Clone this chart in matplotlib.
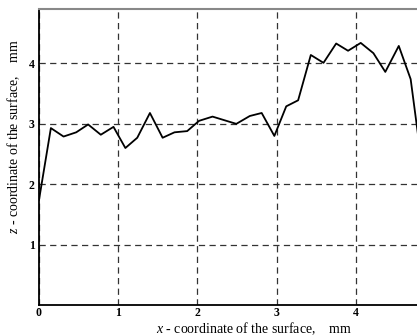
import matplotlib
matplotlib.use('Agg')
import matplotlib.pyplot as plt

# surface profile
x_mm = [0.0, 0.15, 0.31, 0.47, 0.62, 0.78, 0.94, 1.09, 1.24, 1.40, 1.56, 1.71, 1.87,
        2.02, 2.19, 2.34, 2.49, 2.66, 2.81, 2.97, 3.12, 3.27, 3.43, 3.59, 3.75, 3.90,
        4.06, 4.22, 4.37, 4.54, 4.69, 4.85]
z_mm = [1.74, 2.93, 2.79, 2.86, 2.99, 2.82, 2.95, 2.60, 2.77, 3.18, 2.77, 2.86, 2.88,
        3.05, 3.12, 3.06, 3.00, 3.13, 3.18, 2.80, 3.29, 3.39, 4.14, 4.01, 4.33, 4.21,
        4.34, 4.17, 3.86, 4.29, 3.74, 2.15]
xticks = [0, 1, 2, 3, 4]
yticks = [1, 2, 3, 4]

plt.rcParams['font.family'] = 'Liberation Serif'
plt.rcParams['mathtext.fontset'] = 'custom'
plt.rcParams['mathtext.it'] = 'Liberation Serif:italic'
plt.rcParams['mathtext.rm'] = 'Liberation Serif'

fig = plt.figure(figsize=(4.17, 3.36), dpi=100)
ax = fig.add_axes([0.0935, 0.092, 0.9065, 0.881])

ax.plot(x_mm, z_mm, color='black', lw=1.3, clip_on=True)

ax.set_xlim(0, 4.77)
ax.set_ylim(0, 4.9)
ax.set_xticks(xticks)
ax.set_yticks(yticks)
ax.set_xticklabels([str(t) for t in xticks], fontweight='bold', fontsize=8.5)
ax.set_yticklabels([str(t) for t in yticks], fontweight='bold', fontsize=8.5)
ax.tick_params(axis='x', length=0, pad=1.5)
ax.tick_params(axis='y', length=0, pad=3)

ax.grid(True, color='#333333', ls=(0, (5, 3.5)), lw=0.9)

ax.spines['right'].set_visible(False)
ax.spines['top'].set_color('#888888')
ax.spines['top'].set_linewidth(1.5)
ax.spines['left'].set_linewidth(1.3)
ax.spines['bottom'].set_linewidth(1.3)

ax.set_xlabel(r'$x$ - coordinate of the surface,    mm', fontsize=10)
ax.xaxis.set_label_coords(0.568, -0.05)
ax.set_ylabel(r'$z$ - coordinate of the surface,    mm', fontsize=10)
ax.yaxis.set_label_coords(-0.045, 0.57)

fig.savefig('out.png', dpi=100)
